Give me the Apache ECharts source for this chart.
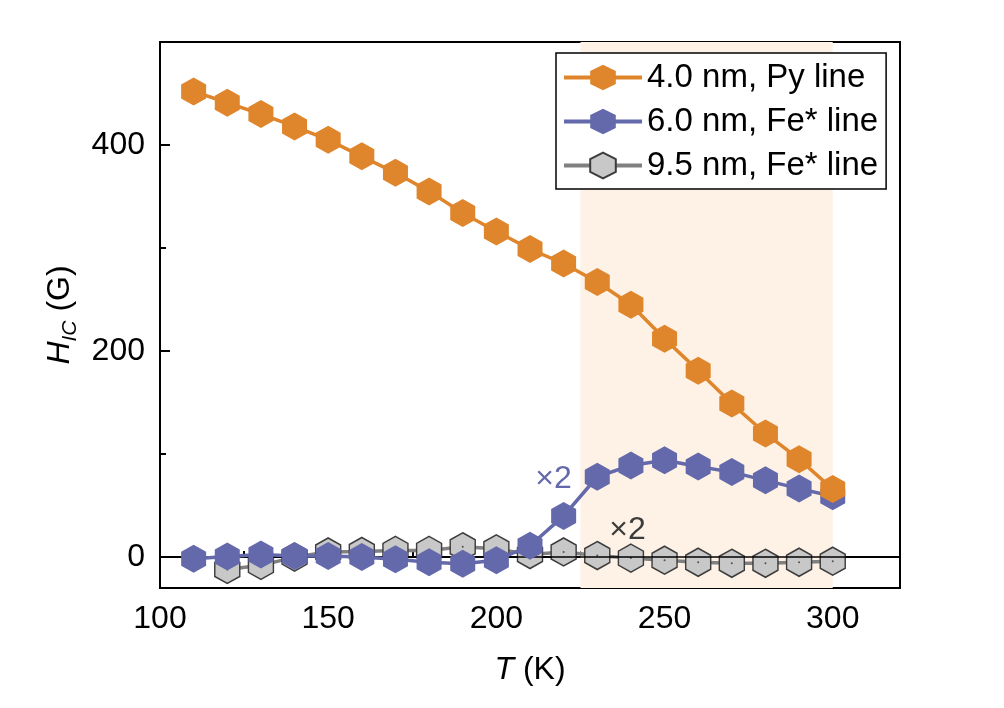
<!DOCTYPE html>
<html>
<head>
<meta charset="utf-8">
<script src="https://cdn.jsdelivr.net/npm/echarts@6/dist/echarts.min.js"></script>
<style>
html,body{margin:0;padding:0;background:#fff;}
#chart{width:1004px;height:708px;}
</style>
</head>
<body>
<div id="chart"></div>
<script>
// ---- data ----
const tempPy = [110,120,130,140,150,160,170,180,190,200,210,220,230,240,250,260,270,280,290,300];
const hcPy = [452,441,430,418,405,389,373,355,334,316,299,285,267,245,212,181,149,120,95,66];
const tempFe6 = [110,120,130,140,150,160,170,180,190,200,210,220,230,240,250,260,270,280,290,300];
const hcFe6 = [-1.5,0.5,2.5,1,1,0,-2,-5,-6.5,-3,11,40,78,89,94,88,82.5,74.5,66.5,59];
const tempFe95 = [120,130,140,150,160,170,180,190,200,210,220,230,240,250,260,270,280,290,300];
const hcFe95 = [-12,-8,0,5,5.5,6.5,6.5,10,8,2.5,5,1.5,-1,-3,-5,-6,-6,-5,-4];
const xMajorTicks = [100,150,200,250,300];
const xMinorTicks = [125,175,225,275];
const yMajorTicks = [0,200,400];
const yMinorTicks = [100,300];
const seriesNames = ['4.0 nm, Py line','6.0 nm, Fe* line','9.5 nm, Fe* line'];
const shadeRange = [225,300];
const annotBlue = [217,76];
const annotGray = [239,26];

const FONT = 'Liberation Sans, Arial, sans-serif';
const FS = 32;
const hex = 'path://M0,-1L0.866,-0.5L0.866,0.5L0,1L-0.866,0.5L-0.866,-0.5Z';
const cOrange = '#df852b', cBlue = '#6369ab', cGrayFill = '#c8c8c8', cGrayEdge = '#3c3c3c', cGrayLine = '#808080';

const zip = (a,b) => a.map((v,i)=>[v,b[i]]);

const chart = echarts.init(document.getElementById('chart'), null, {renderer:'canvas'});
const axisCommon = {
  type:'value', splitLine:{show:false},
  axisLine:{show:true, lineStyle:{color:'#000', width:2}},
};
chart.setOption({
  backgroundColor:'#fff',
  animation:false,
  textStyle:{fontFamily:FONT},
  grid:{left:160, right:104, top:42, bottom:120, show:true, borderColor:'#000', borderWidth:2, backgroundColor:'transparent'},
  legend:{
    orient:'vertical', left:556, top:53,
    data:seriesNames,
    backgroundColor:'#fff', borderColor:'#000', borderWidth:1.5,
    padding:[8,8,7,6], itemWidth:78, itemHeight:32, itemGap:11,
    lineStyle:{width:4},
    textStyle:{fontSize:33, color:'#000', fontFamily:FONT},
    selectedMode:false
  },
  xAxis:[
    Object.assign({}, axisCommon, {
      min:100, max:320, position:'bottom',
      axisTick:{show:true, inside:true, length:10, customValues:xMajorTicks, lineStyle:{color:'#000', width:2}},
      axisLabel:{customValues:xMajorTicks, fontSize:FS, color:'#000', margin:15, fontFamily:FONT},
      name:'{i|T}{n| (K)}', nameLocation:'middle', nameGap:66,
      nameTextStyle:{rich:{i:{fontStyle:'italic', fontSize:FS, fontFamily:FONT, color:'#000'}, n:{fontSize:FS, fontFamily:FONT, color:'#000'}}}
    }),
    Object.assign({}, axisCommon, {
      min:100, max:320, position:'bottom', axisLine:{show:false},
      axisTick:{show:true, inside:true, length:6, customValues:xMinorTicks, lineStyle:{color:'#000', width:2}},
      axisLabel:{show:false}
    })
  ],
  yAxis:[
    Object.assign({}, axisCommon, {
      min:-30, max:500, position:'left',
      axisTick:{show:true, inside:true, length:10, customValues:yMajorTicks, lineStyle:{color:'#000', width:2}},
      axisLabel:{customValues:yMajorTicks, fontSize:FS, color:'#000', margin:15, fontFamily:FONT},
      name:'{i|H}{s|IC}{n| (G)}', nameLocation:'middle', nameGap:78, nameRotate:90,
      nameTextStyle:{rich:{
        i:{fontStyle:'italic', fontSize:FS, fontFamily:FONT, color:'#000', lineHeight:42, verticalAlign:'middle'},
        s:{fontStyle:'italic', fontSize:21, fontFamily:FONT, color:'#000', lineHeight:42, verticalAlign:'bottom', padding:[13,0,0,0]},
        n:{fontSize:FS, fontFamily:FONT, color:'#000', lineHeight:42, verticalAlign:'middle'}
      }}
    }),
    Object.assign({}, axisCommon, {
      min:-30, max:500, position:'left', axisLine:{show:false},
      axisTick:{show:true, inside:true, length:6, customValues:yMinorTicks, lineStyle:{color:'#000', width:2}},
      axisLabel:{show:false}
    })
  ],
  series:[
    {
      name:seriesNames[2], type:'line', data:zip(tempFe95,hcFe95),
      symbol:hex, symbolSize:[25,28],
      lineStyle:{color:cGrayLine, width:3.5},
      itemStyle:{color:cGrayFill, borderColor:cGrayEdge, borderWidth:1.5},
      z:3,
      markArea:{silent:true, itemStyle:{color:'#fef1e5'}, data:[[{xAxis:shadeRange[0]},{xAxis:shadeRange[1]}]]},
      markPoint:{silent:true, symbol:'circle', symbolSize:0,
        label:{show:true, position:'inside', formatter:'×2', fontSize:32, color:'#3c3c3c', fontFamily:FONT},
        data:[{coord:annotGray}]}
    },
    {
      name:'dots', type:'scatter', data:zip(tempFe95,hcFe95), symbol:'circle', symbolSize:2,
      itemStyle:{color:'#333'}, silent:true, z:4
    },
    {
      name:seriesNames[1], type:'line', data:zip(tempFe6,hcFe6),
      symbol:hex, symbolSize:[25,28],
      lineStyle:{color:cBlue, width:3.5},
      itemStyle:{color:cBlue, borderWidth:0},
      z:5,
      markPoint:{silent:true, symbol:'circle', symbolSize:0,
        label:{show:true, position:'inside', formatter:'×2', fontSize:32, color:cBlue, fontFamily:FONT},
        data:[{coord:annotBlue}]}
    },
    {
      name:seriesNames[0], type:'line', data:zip(tempPy,hcPy),
      symbol:hex, symbolSize:[25,28],
      lineStyle:{color:cOrange, width:3.5},
      itemStyle:{color:cOrange, borderWidth:0},
      z:6,
      markLine:{silent:true, symbol:['none','none'], label:{show:false},
        lineStyle:{color:'#000', width:1.5, type:'solid'}, data:[{yAxis:0}]}
    }
  ]
});
</script>
</body>
</html>
